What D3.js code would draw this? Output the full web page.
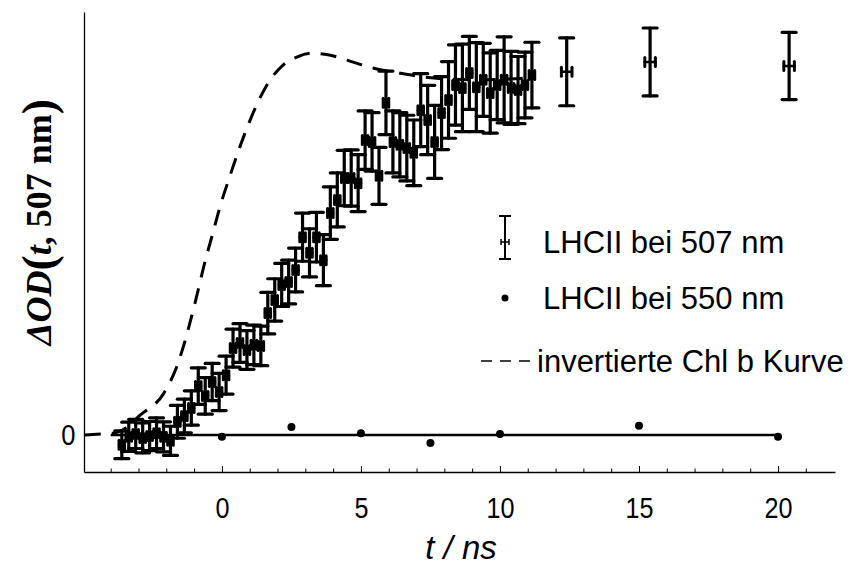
<!DOCTYPE html>
<html>
<head>
<meta charset="utf-8">
<script src="https://cdn.jsdelivr.net/npm/d3@7"></script>
<style>
  html, body { margin: 0; padding: 0; background: #fff; }
  svg { display: block; }
</style>
</head>
<body>
<script>
// Time axis (ns) of the 507 nm absorption transient
const t507 = [-3.6, -3.35, -3.1, -2.85, -2.6, -2.35, -2.1, -1.85, -1.6, -1.35,
  -1.1, -0.85, -0.6, -0.35, -0.1, 0.15, 0.4, 0.65, 0.9, 1.15,
  1.4, 1.65, 1.9, 2.15, 2.4, 2.65, 2.9, 3.15, 3.4, 3.65,
  3.9, 4.15, 4.4, 4.65, 4.9, 5.15, 5.4, 5.65, 5.9, 6.15,
  6.4, 6.65, 6.9, 7.15, 7.4, 7.65, 7.9, 8.15, 8.4, 8.65,
  8.9, 9.15, 9.4, 9.65, 9.9, 10.15, 10.4, 10.65, 10.9, 11.15,
  12.4, 15.4, 20.4];
// ΔOD at 507 nm (arbitrary units, plateau ≈ 1)
const od507 = [-0.027, -0.005, 0.003, -0.008, -0.003, 0.005, -0.005, -0.016, 0.036, 0.052,
  0.074, 0.134, 0.107, 0.145, 0.118, 0.164, 0.238, 0.252, 0.233, 0.247,
  0.244, 0.334, 0.370, 0.411, 0.419, 0.452, 0.542, 0.499, 0.542, 0.479,
  0.608, 0.644, 0.704, 0.704, 0.690, 0.808, 0.803, 0.710, 0.910, 0.803,
  0.795, 0.786, 0.773, 0.890, 0.863, 0.803, 0.882, 0.918, 0.959, 0.951,
  0.992, 0.953, 0.973, 0.937, 0.959, 0.973, 0.951, 0.945, 0.959, 0.986,
  0.995, 1.022, 1.011];
// vertical error (ΔOD)
const err507 = [0.038, 0.040, 0.040, 0.041, 0.040, 0.042, 0.041, 0.040, 0.045, 0.046,
  0.047, 0.050, 0.050, 0.051, 0.051, 0.052, 0.052, 0.053, 0.053, 0.054,
  0.054, 0.057, 0.058, 0.059, 0.060, 0.060, 0.066, 0.066, 0.068, 0.070,
  0.072, 0.074, 0.076, 0.077, 0.078, 0.080, 0.080, 0.078, 0.087, 0.085,
  0.088, 0.090, 0.090, 0.100, 0.095, 0.100, 0.100, 0.105, 0.110, 0.120,
  0.100, 0.122, 0.100, 0.110, 0.095, 0.118, 0.100, 0.092, 0.090, 0.090,
  0.093, 0.093, 0.092];
// horizontal (time) error, ns
const terr507 = [0.1, 0.1, 0.1, 0.1, 0.1, 0.1, 0.1, 0.1, 0.1, 0.1,
  0.1, 0.1, 0.1, 0.1, 0.1, 0.1, 0.1, 0.1, 0.1, 0.1,
  0.1, 0.1, 0.1, 0.1, 0.1, 0.1, 0.1, 0.1, 0.1, 0.1,
  0.1, 0.1, 0.1, 0.1, 0.1, 0.1, 0.1, 0.1, 0.1, 0.1,
  0.1, 0.1, 0.1, 0.1, 0.1, 0.1, 0.1, 0.1, 0.1, 0.1,
  0.1, 0.1, 0.1, 0.1, 0.1, 0.1, 0.1, 0.1, 0.1, 0.1,
  0.19, 0.19, 0.19];

// 550 nm control measurement
const t550 = [0, 2.5, 5, 7.5, 10, 15, 20];
const od550 = [-0.005, 0.022, 0.005, -0.022, 0.003, 0.025, -0.005];
// baseline drawn through the 550 nm data
const baseT = [-4, 20];
const baseOD = [0, 0];

// inverted Chl b kinetics (dashed)
const tChl = [-4.93, -4.36, -3.9, -3.46, -2.93, -2.11, -1.64, -1.36, -0.96, -0.61,
  -0.32, -0.07, 0.29, 0.64, 1.0, 1.36, 1.71, 2.18, 2.71, 3.25,
  3.86, 4.57, 5.46, 6.36, 7.25, 8.14, 9.21, 10.29, 11.0];
const odChl = [0.0, 0.003, 0.005, 0.019, 0.055, 0.112, 0.184, 0.249, 0.364, 0.474,
  0.555, 0.625, 0.710, 0.788, 0.860, 0.922, 0.970, 1.012, 1.036, 1.046,
  1.041, 1.025, 1.005, 0.992, 0.981, 0.975, 0.973, 0.975, 0.978];

// axis ticks
const xTicks = d3.range(-4, 22);
const xMajor = [0, 5, 10, 15, 20];
const yTicks = [0];

const legendLabels = ["LHCII bei 507 nm", "LHCII bei 550 nm", "invertierte Chl b Kurve"];

const W = 853, H = 565;
const svg = d3.select("body").append("svg").attr("width", W).attr("height", H);

const x = d3.scaleLinear().domain([-4.96, 22.05]).range([84, 835]);
const y = d3.scaleLinear().domain([-0.1014, 1.1589]).range([472, 12]);

const tickFont = "'Liberation Sans', Arial, sans-serif";

// ---- x axis ----
const xAxis = d3.axisBottom(x)
  .tickValues(xTicks)
  .tickSizeInner(-6)
  .tickSizeOuter(0)
  .tickPadding(25)
  .tickFormat(d => xMajor.includes(d) ? String(d) : "");
const gx = svg.append("g").attr("transform", `translate(0,${y.range()[0]})`).call(xAxis);
gx.select(".domain").attr("stroke", "#000").attr("stroke-width", 1.3);
gx.selectAll(".tick line")
  .attr("stroke", "#000").attr("stroke-width", 1)
  .attr("y2", d => xMajor.includes(d) ? -6 : -3.5);
gx.selectAll(".tick text")
  .attr("fill", "#000")
  .attr("font-family", tickFont)
  .attr("font-size", 30)
  .attr("transform", "scale(0.84,1)");

// ---- y axis ----
const yAxis = d3.axisLeft(y)
  .tickValues(yTicks)
  .tickSizeInner(-6)
  .tickSizeOuter(0)
  .tickPadding(10)
  .tickFormat(d3.format("d"));
const gy = svg.append("g").attr("transform", `translate(${x.range()[0]},0)`).call(yAxis);
gy.select(".domain").attr("stroke", "#000").attr("stroke-width", 1.3);
gy.selectAll(".tick line").attr("stroke", "#000").attr("stroke-width", 1);
gy.selectAll(".tick text")
  .attr("fill", "#000")
  .attr("font-family", tickFont)
  .attr("font-size", 30)
  .attr("transform", "scale(0.85,1)");

// ---- axis titles ----
svg.append("text")
  .attr("x", 461).attr("y", 559)
  .attr("text-anchor", "middle")
  .attr("font-family", tickFont)
  .attr("font-style", "italic")
  .attr("font-size", 33)
  .text("t / ns");

const yl = svg.append("text")
  .attr("transform", "translate(51,222) rotate(-90)")
  .attr("text-anchor", "middle")
  .attr("font-family", "'Liberation Serif', 'Times New Roman', serif")
  .attr("font-weight", "bold")
  .attr("font-size", 36);
yl.append("tspan").attr("font-style", "italic").text("ΔOD");
yl.append("tspan").attr("font-size", 46).attr("dy", 3).text("(");
yl.append("tspan").attr("font-style", "italic").attr("dy", -3).text("t");
yl.append("tspan").text(", 507 nm");
yl.append("tspan").attr("font-size", 46).attr("dy", 3).text(")");

// ---- baseline (550 nm) ----
const plot = svg.append("g");
plot.append("line")
  .attr("x1", x(baseT[0])).attr("x2", x(baseT[1]))
  .attr("y1", y(baseOD[0])).attr("y2", y(baseOD[1]))
  .attr("stroke", "#000").attr("stroke-width", 2.6);

// ---- dashed Chl b curve ----
const chl = tChl.map((t, i) => [t, odChl[i]]);
plot.append("path")
  .datum(chl)
  .attr("fill", "none")
  .attr("stroke", "#000")
  .attr("stroke-width", 3)
  .attr("stroke-dasharray", "16,11")
  .attr("d", d3.line().x(d => x(d[0])).y(d => y(d[1])).curve(d3.curveMonotoneX));

// ---- 507 nm data with error bars ----
const data507 = t507.map((t, i) => ({ t, v: od507[i], e: err507[i], te: terr507[i] }));
const capW = 7;
const g507 = plot.append("g").attr("stroke", "#000").attr("stroke-linecap", "round");
const pts = g507.selectAll("g.pt").data(data507).join("g").attr("class", "pt");
pts.append("line")
  .attr("x1", d => x(d.t)).attr("x2", d => x(d.t))
  .attr("y1", d => y(d.v + d.e)).attr("y2", d => y(d.v - d.e))
  .attr("stroke-width", 3.2);
pts.append("line")
  .attr("x1", d => x(d.t) - capW).attr("x2", d => x(d.t) + capW)
  .attr("y1", d => y(d.v + d.e)).attr("y2", d => y(d.v + d.e))
  .attr("stroke-width", 3.2);
pts.append("line")
  .attr("x1", d => x(d.t) - capW).attr("x2", d => x(d.t) + capW)
  .attr("y1", d => y(d.v - d.e)).attr("y2", d => y(d.v - d.e))
  .attr("stroke-width", 3.2);
// time error bar with small caps
pts.append("line")
  .attr("x1", d => x(d.t - d.te)).attr("x2", d => x(d.t + d.te))
  .attr("y1", d => y(d.v)).attr("y2", d => y(d.v))
  .attr("stroke-width", 2.6);
pts.append("line")
  .attr("x1", d => x(d.t - d.te)).attr("x2", d => x(d.t - d.te))
  .attr("y1", d => y(d.v) - 4.5).attr("y2", d => y(d.v) + 4.5)
  .attr("stroke-width", 3);
pts.append("line")
  .attr("x1", d => x(d.t + d.te)).attr("x2", d => x(d.t + d.te))
  .attr("y1", d => y(d.v) - 4.5).attr("y2", d => y(d.v) + 4.5)
  .attr("stroke-width", 3);
// data point marker (dense series only; the sparse late points show bare bars)
pts.filter(d => d.te < 0.15).append("ellipse")
  .attr("cx", d => x(d.t)).attr("cy", d => y(d.v))
  .attr("rx", 3.6).attr("ry", 5.5)
  .attr("fill", "#000").attr("stroke", "none");

// ---- 550 nm points ----
plot.append("g").selectAll("circle")
  .data(t550.map((t, i) => ({ t, v: od550[i] })))
  .join("circle")
  .attr("cx", d => x(d.t)).attr("cy", d => y(d.v))
  .attr("r", 4).attr("fill", "#000");

// ---- legend ----
const legFont = "'Liberation Sans', Arial, sans-serif";
const leg = svg.append("g");
const rows = [242, 298, 361];
const symX = 505;
// error bar symbol
const lg1 = leg.append("g").attr("stroke", "#000");
lg1.append("line").attr("x1", symX).attr("x2", symX).attr("y1", rows[0] - 26).attr("y2", rows[0] + 17).attr("stroke-width", 2);
lg1.append("line").attr("x1", symX - 6).attr("x2", symX + 6).attr("y1", rows[0] - 26).attr("y2", rows[0] - 26).attr("stroke-width", 2);
lg1.append("line").attr("x1", symX - 6).attr("x2", symX + 6).attr("y1", rows[0] + 17).attr("y2", rows[0] + 17).attr("stroke-width", 2);
lg1.append("line").attr("x1", symX - 4).attr("x2", symX + 4).attr("y1", rows[0]).attr("y2", rows[0]).attr("stroke-width", 1.5);
lg1.append("line").attr("x1", symX - 4).attr("x2", symX - 4).attr("y1", rows[0] - 3).attr("y2", rows[0] + 3).attr("stroke-width", 1.5);
lg1.append("line").attr("x1", symX + 4).attr("x2", symX + 4).attr("y1", rows[0] - 3).attr("y2", rows[0] + 3).attr("stroke-width", 1.5);
// dot symbol
leg.append("circle").attr("cx", symX).attr("cy", rows[1]).attr("r", 3.5).attr("fill", "#000");
// dashed symbol
leg.append("line").attr("x1", 481).attr("x2", 530).attr("y1", rows[2]).attr("y2", rows[2])
  .attr("stroke", "#000").attr("stroke-width", 1.6).attr("stroke-dasharray", "11,8");
const legX = [543, 543, 537];
leg.selectAll("text").data(legendLabels).join("text")
  .attr("x", (d, i) => legX[i]).attr("y", (d, i) => rows[i] + 11)
  .attr("font-family", legFont).attr("font-size", 31)
  .text(d => d);
</script>
</body>
</html>
